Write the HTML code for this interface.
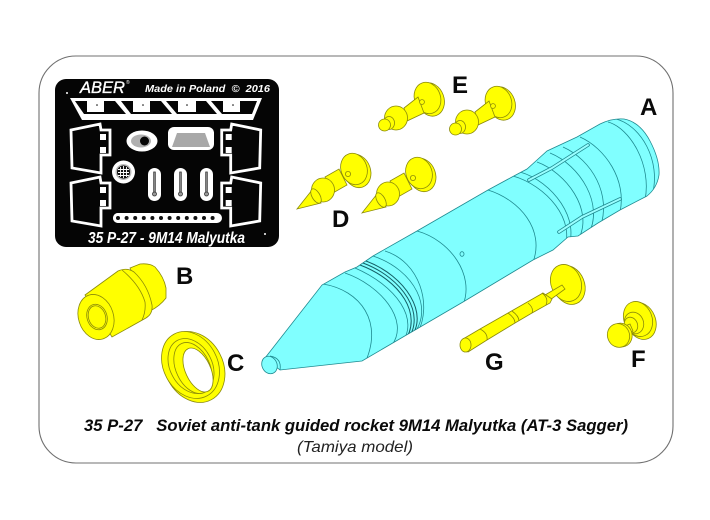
<!DOCTYPE html>
<html><head><meta charset="utf-8"><style>html,body{margin:0;padding:0;background:#fff}svg{display:block}</style></head><body>
<svg xmlns="http://www.w3.org/2000/svg" width="710" height="520" viewBox="0 0 710 520" font-family="'Liberation Sans',sans-serif">
<defs>
<clipPath id="rk"><path d="M265 358 L322 285 L345 272 L357 267 L373 256 L417 231 L488 190 L512 177 L527 169 L537 160 L547 151 L577 137 L600 124 Q612 118 624 119 Q640 122 650 141 Q660 160 659 175 Q657 188 647 196 L620 210 L598 223 L578 236 L568 237 L553 250 L533 260 L463 302 L403 337 L362 361 L280 370 Z"/></clipPath>
<g id="brk">
<polygon points="71,130 100,124 101,130 110,130 110,155 101,155 101,173 72,168" fill="none" stroke="#fff" stroke-width="2.8"/>
<rect x="100" y="134" width="6" height="6" fill="#fff"/><rect x="100" y="147" width="6" height="6" fill="#fff"/>
</g>
<g id="eShape">
<ellipse cx="430.500" cy="99.500" rx="13.500" ry="17" transform="rotate(-20 430.500 99.500)"/>
<ellipse cx="427.500" cy="98" rx="13" ry="16" transform="rotate(-20 427.500 98)"/>
<polygon points="404,108 418,97 424,113 407,121"/>
<circle cx="422" cy="102" r="2.400"/>
<ellipse cx="396" cy="118" rx="11.500" ry="12"/>
<ellipse cx="389" cy="123" rx="5.500" ry="6.500"/>
<circle cx="384.500" cy="125" r="6"/>
</g>
<g id="dShape">
<ellipse cx="357" cy="171" rx="13.500" ry="17" transform="rotate(-20 357 171)"/>
<ellipse cx="354" cy="169" rx="13" ry="16" transform="rotate(-20 354 169)"/>
<polygon points="325,177 339,169 347,185 333,193"/>
<circle cx="348" cy="174" r="2.600"/>
<ellipse cx="323" cy="190" rx="11.500" ry="12"/>
<polygon points="297,209 312,190 321,203"/>
<ellipse cx="316" cy="196" rx="4" ry="8" transform="rotate(-30 316 196)"/>
</g>
</defs>
<rect width="710" height="520" fill="#fff"/>
<rect x="39" y="56" width="634" height="407" rx="37" fill="#fff" stroke="#707070" stroke-width="1.100"/>

<!-- Plate -->
<rect x="55" y="79" width="224" height="168" rx="11" fill="#050505"/>
<g fill="#fff">
<text x="80" y="93" font-size="16.500" font-style="italic" stroke="#fff" stroke-width=".35" textLength="45" lengthAdjust="spacingAndGlyphs">ABER</text>
<text x="126" y="84" font-size="5">®</text>
<text x="145" y="92" font-size="10.500" font-weight="bold" font-style="italic" xml:space="preserve" textLength="125" lengthAdjust="spacingAndGlyphs">Made in Poland  ©  2016</text>
<text x="88" y="243" font-size="15.500" font-weight="bold" font-style="italic" textLength="157" lengthAdjust="spacingAndGlyphs">35 P-27 - 9M14 Malyutka</text>
<circle cx="67" cy="93" r="1"/><circle cx="265" cy="234" r="1"/>
<polygon points="70,98 262,98 253,120 82,120"/>
</g>
<g fill="#050505">
<polygon points="75,101 115,101 126,114 84,114"/>
<polygon points="121,101 161,101 172,114 131,114"/>
<polygon points="166,101 206,101 217,114 177,114"/>
<polygon points="211,101 257,101 252,114 222,114"/>
</g>
<g fill="#fff">
<rect x="87" y="101" width="17" height="11"/><rect x="133" y="101" width="17" height="11"/><rect x="178" y="101" width="18" height="11"/><rect x="223" y="101" width="17" height="11"/>
</g>
<g fill="#050505"><circle cx="97" cy="105" r=".8"/><circle cx="143" cy="105" r=".8"/><circle cx="187" cy="105" r=".8"/><circle cx="233" cy="105" r=".8"/></g>
<use href="#brk"/><use href="#brk" y="53"/>
<g transform="translate(331.700,0) scale(-1,1)"><use href="#brk"/><use href="#brk" y="53"/></g>
<ellipse cx="142" cy="141" rx="15.500" ry="10.500" fill="#fff"/>
<ellipse cx="141" cy="141" rx="10" ry="6.500" fill="#b0b0b0"/>
<circle cx="144.500" cy="141" r="4.500" fill="#050505"/>
<rect x="168" y="127" width="46" height="23" rx="6" fill="#fff"/>
<polygon points="177,133 205,133 210,147 172,147" fill="#a8a8a8"/>
<circle cx="123.500" cy="172" r="11.500" fill="#fff"/><circle cx="123.500" cy="172" r="8" fill="#bbb"/><circle cx="123.500" cy="172" r="6.500" fill="#111"/>
<path d="M118 169.500h11M118 172.500h11M118 175.500h11M120.500 167v10M123.500 166v12M126.500 167v10" stroke="#fff" stroke-width=".9"/>
<rect x="148" y="168" width="13" height="33" rx="6.500" fill="#fff"/><rect x="174" y="168" width="13" height="33" rx="6.500" fill="#fff"/><rect x="200" y="168" width="13" height="33" rx="6.500" fill="#fff"/>
<g stroke="#333" stroke-width=".8" fill="#999"><rect x="153.700" y="172" width="1.600" height="22"/><rect x="179.700" y="172" width="1.600" height="22"/><rect x="205.700" y="172" width="1.600" height="22"/><circle cx="154.500" cy="194" r="2"/><circle cx="180.500" cy="194" r="2"/><circle cx="206.500" cy="194" r="2"/></g>
<rect x="113" y="213" width="109" height="10" rx="5" fill="#fff"/>
<g fill="#fff"><circle cx="118" cy="218" r="5"/><circle cx="126.600" cy="218" r="5"/><circle cx="135.200" cy="218" r="5"/><circle cx="143.800" cy="218" r="5"/><circle cx="152.400" cy="218" r="5"/><circle cx="161" cy="218" r="5"/><circle cx="169.600" cy="218" r="5"/><circle cx="178.200" cy="218" r="5"/><circle cx="186.800" cy="218" r="5"/><circle cx="195.400" cy="218" r="5"/><circle cx="204" cy="218" r="5"/><circle cx="212.600" cy="218" r="5"/></g>
<g fill="#111"><circle cx="118" cy="218" r="2"/><circle cx="126.600" cy="218" r="2"/><circle cx="135.200" cy="218" r="2"/><circle cx="143.800" cy="218" r="2"/><circle cx="152.400" cy="218" r="2"/><circle cx="161" cy="218" r="2"/><circle cx="169.600" cy="218" r="2"/><circle cx="178.200" cy="218" r="2"/><circle cx="186.800" cy="218" r="2"/><circle cx="195.400" cy="218" r="2"/><circle cx="204" cy="218" r="2"/><circle cx="212.600" cy="218" r="2"/></g>

<!-- Rocket -->
<g stroke="#1f8a90" stroke-width=".8" fill="none">
<path fill="#80ffff" d="M265 358 L322 285 L345 272 L357 267 L373 256 L417 231 L488 190 L512 177 L527 169 L537 160 L547 151 L577 137 L600 124 Q612 118 624 119 Q640 122 650 141 Q660 160 659 175 Q657 188 647 196 L620 210 L598 223 L578 236 L568 237 L553 250 L533 260 L463 302 L403 337 L362 361 L280 370 Z"/>
<g clip-path="url(#rk)">
<path d="M323 284 C360 290 385 322 364 365"/>
<path d="M345 273 C380 285 410 320 392 345"/>
<path d="M355 268 C395 285 422 320 400 345"/>
<path d="M360 265 C400 280 424 315 404 342" stroke="#145f66" stroke-width="1"/>
<path d="M363 263 C403 278 427 315 407 340" stroke="#145f66" stroke-width="1"/>
<path d="M366 261 C406 276 430 315 410 338" stroke="#145f66" stroke-width="1"/>
<path d="M373 256 C415 270 435 310 412 336"/>
<path d="M385 251 C420 262 432 305 418 332"/>
<path d="M417 231 C450 240 475 275 463 305"/>
<path d="M488 190 C520 200 545 230 533 262"/>
<path d="M513 176 C545 185 578 220 563 252"/>
<path d="M520 172 C552 181 582 220 567 250"/>
<path d="M537 162 C565 172 595 210 578 240"/>
<path d="M550 153 C580 165 605 205 588 235"/>
<path d="M563 147 C592 160 612 195 600 228"/>
<path d="M580 137 C605 148 627 180 620 212"/>
<path d="M608 122 C630 128 652 165 645 200"/>
<path d="M616 119 C640 125 662 160 652 196"/>
</g>
<ellipse cx="269.500" cy="365" rx="7.500" ry="9" transform="rotate(-25 269.500 365)" fill="#80ffff"/>
<path d="M270 356 Q282 358 280 370"/>
<ellipse cx="462" cy="254" rx="2" ry="2.300"/>
</g>
<g fill="none" stroke-linecap="round">
<path d="M529 180 L552 168 L588 145" stroke="#1f8a90" stroke-width="3.600"/>
<path d="M529 180 L552 168 L588 145" stroke="#9ff" stroke-width="2"/>
<path d="M559 232 L582 217 L620 199" stroke="#1f8a90" stroke-width="3.600"/>
<path d="M559 232 L582 217 L620 199" stroke="#9ff" stroke-width="2"/>
</g>

<!-- Yellow parts -->
<g fill="#ffff00" stroke="#8a8a0a" stroke-width=".8">
<use href="#eShape"/><use href="#eShape" x="71" y="4"/>
<use href="#dShape"/><use href="#dShape" x="65" y="4"/>
<!-- G -->
<ellipse cx="569" cy="285" rx="15.500" ry="20" transform="rotate(-22 569 285)"/>
<ellipse cx="566" cy="283" rx="15" ry="19" transform="rotate(-22 566 283)"/>
<path d="M545 295 L562 285 L565 289 L550 300 Z"/>
<path d="M463 339 L480 329 L508 313 L543 293 L552 299 L550 303 L532 313 L515 323 L487 340 L468 352 Z"/>
<path d="M480 329 Q488 333 487 340M508 313 Q515 318 515 323M512 311 Q519 316 519 321M528 303 Q534 308 532 313M542 293 Q549 298 546 305" fill="none"/>
<ellipse cx="465.500" cy="345" rx="5.500" ry="7"/>
<!-- F -->
<ellipse cx="641" cy="321" rx="14.500" ry="19" transform="rotate(-22 641 321)"/>
<ellipse cx="638" cy="319" rx="14" ry="18" transform="rotate(-22 638 319)"/>
<ellipse cx="634" cy="323" rx="9.500" ry="11" transform="rotate(-22 634 323)"/>
<ellipse cx="631" cy="325" rx="6.500" ry="8" transform="rotate(-22 631 325)"/>
<polygon points="620,328 630,324 633,331 622,339"/>
<ellipse cx="621" cy="335" rx="11" ry="12" transform="rotate(-22 621 335)"/>
<ellipse cx="618.500" cy="335.500" rx="11" ry="12" transform="rotate(-22 618.500 335.500)"/>
<!-- B -->
<path d="M130 268 L140 264 Q150 263 155 267 Q164 277 166 288 L166 298 Q160 306 150 311 Z"/>
<path d="M85 295 L118 271 Q127 267 134 272 Q148 285 152 305 Q153 314 146 318 L112 337 Z"/>
<path d="M122 270 Q140 285 145 302 Q146 312 142 320" fill="none"/>
<ellipse cx="96" cy="317" rx="17.500" ry="23" transform="rotate(-18 96 317)"/>
<ellipse cx="97" cy="317" rx="10" ry="13" transform="rotate(-18 97 317)"/>
<ellipse cx="97" cy="317" rx="8.500" ry="11.500" transform="rotate(-18 97 317)"/>
<!-- C -->
<ellipse cx="194" cy="367" rx="29" ry="37" transform="rotate(-28 194 367)"/>
<ellipse cx="190.500" cy="365" rx="27" ry="35" transform="rotate(-28 190.500 365)"/>
<ellipse cx="191" cy="366" rx="21" ry="29" transform="rotate(-28 191 366)" fill="none"/>
<ellipse cx="193" cy="368" rx="17" ry="27" transform="rotate(-25 193 368)"/>
<ellipse cx="198" cy="370" rx="12.500" ry="23.500" transform="rotate(-25 198 370)" fill="#fff"/>
</g>

<!-- Labels -->
<g font-size="24" font-weight="bold" fill="#0a0a0a">
<text x="640" y="115">A</text>
<text x="176" y="284">B</text>
<text x="227" y="371">C</text>
<text x="332" y="227">D</text>
<text x="452" y="93">E</text>
<text x="631" y="367">F</text>
<text x="485" y="370">G</text>
</g>
<text x="84" y="431" font-size="16.500" font-weight="bold" font-style="italic" fill="#0a0a0a" xml:space="preserve" textLength="544" lengthAdjust="spacingAndGlyphs">35 P-27   Soviet anti-tank guided rocket 9M14 Malyutka (AT-3 Sagger)</text>
<text x="297" y="452" font-size="16" font-style="italic" fill="#222" textLength="116" lengthAdjust="spacingAndGlyphs">(Tamiya model)</text>
</svg>
</body></html>
